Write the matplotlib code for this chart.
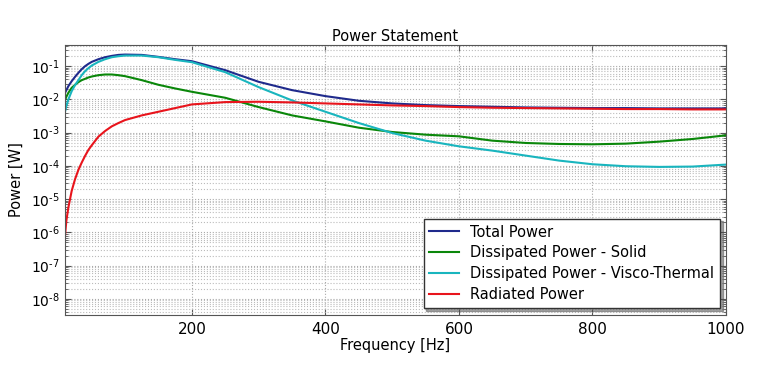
import numpy as np
import matplotlib
matplotlib.use("Agg")
import matplotlib.pyplot as plt
from matplotlib.ticker import FuncFormatter

# frequency points [Hz]
freq = [10, 12, 15, 20, 25, 30, 35, 40, 45, 50, 60, 70, 80, 90, 100, 125,
        150, 175, 200, 250, 300, 350, 400, 450, 500, 550, 600, 650, 700,
        750, 800, 850, 900, 950, 1000]

# power, as log10 of watts
total_log = [-1.80, -1.72, -1.60, -1.45, -1.32, -1.20, -1.09, -1.00, -0.93,
             -0.87, -0.79, -0.73, -0.69, -0.66, -0.65, -0.66, -0.72, -0.79,
             -0.85, -1.12, -1.47, -1.72, -1.90, -2.04, -2.12, -2.17, -2.20,
             -2.22, -2.24, -2.25, -2.26, -2.26, -2.27, -2.27, -2.27]
solid_log = [-2.02, -1.92, -1.80, -1.65, -1.56, -1.48, -1.42, -1.38, -1.34,
             -1.31, -1.27, -1.25, -1.25, -1.27, -1.30, -1.42, -1.56, -1.67,
             -1.77, -1.95, -2.23, -2.48, -2.66, -2.85, -2.98, -3.06, -3.11,
             -3.24, -3.31, -3.34, -3.35, -3.33, -3.27, -3.19, -3.08]
visco_log = [-2.37, -2.20, -2.00, -1.75, -1.57, -1.42, -1.27, -1.15, -1.06,
             -0.98, -0.87, -0.79, -0.73, -0.70, -0.68, -0.68, -0.73, -0.81,
             -0.88, -1.18, -1.63, -2.03, -2.37, -2.71, -3.01, -3.24, -3.41,
             -3.54, -3.69, -3.84, -3.95, -4.01, -4.03, -4.02, -3.96]
radiated_log = [-6.10, -5.65, -5.25, -4.75, -4.40, -4.12, -3.90, -3.70, -3.52,
                -3.38, -3.12, -2.95, -2.81, -2.71, -2.62, -2.48, -2.37, -2.26,
                -2.15, -2.08, -2.07, -2.09, -2.12, -2.15, -2.18, -2.20, -2.23,
                -2.25, -2.26, -2.27, -2.28, -2.29, -2.29, -2.30, -2.30]

labels = ["Total Power", "Dissipated Power - Solid",
          "Dissipated Power - Visco-Thermal", "Radiated Power"]
colors = ["#1f2a8c", "#0a870a", "#19b5be", "#e8141c"]


def pow_label(v, pos):
    e = int(round(np.log10(v)))
    return r'$10^{\text{-}%d}$' % (-e)


plt.rcParams['font.family'] = ['DejaVu Sans']
fig = plt.figure(figsize=(7.65, 3.7), dpi=100)
ax = fig.add_axes([0.085, 0.149, 0.864, 0.729])

for vals, lab, col in zip([total_log, solid_log, visco_log, radiated_log],
                          labels, colors):
    ax.plot(freq, 10.0 ** np.array(vals), color=col, lw=1.5, label=lab)

ax.set_yscale('log')
ax.set_xlim(10, 1000)
ax.set_ylim(3.3e-9, 0.43)
ax.set_xticks([200, 400, 600, 800, 1000])
ax.set_yticks([10.0 ** e for e in range(-8, 0)])
ax.yaxis.set_major_formatter(FuncFormatter(pow_label))
ax.tick_params(which='both', direction='in', color='#555555',
               top=True, right=True)
ax.tick_params(which='major', length=4)
ax.tick_params(which='minor', length=2)
ax.tick_params(axis='x', labelsize=11, pad=5)
ax.tick_params(axis='y', labelsize=10, pad=4)
ax.grid(which='major', ls=':', color='#aaaaaa', lw=0.8)
ax.grid(which='minor', axis='y', ls=':', color='#bbbbbb', lw=0.8)
for sp in ax.spines.values():
    sp.set_color('#555555')

ax.set_title("Power Statement", fontsize=10.5, pad=3)
ax.set_xlabel("Frequency [Hz]", fontsize=10.5, labelpad=1)
ax.set_ylabel("Power [W]", fontsize=10.5, labelpad=5)

leg = ax.legend(loc='lower right', bbox_to_anchor=(0.991, 0.026),
                borderaxespad=0, fontsize=10.5, shadow=True, fancybox=False,
                handlelength=2.0, labelspacing=0.4, framealpha=1)
leg.get_frame().set_edgecolor('#333333')

fig.savefig("out.png", dpi=100)
